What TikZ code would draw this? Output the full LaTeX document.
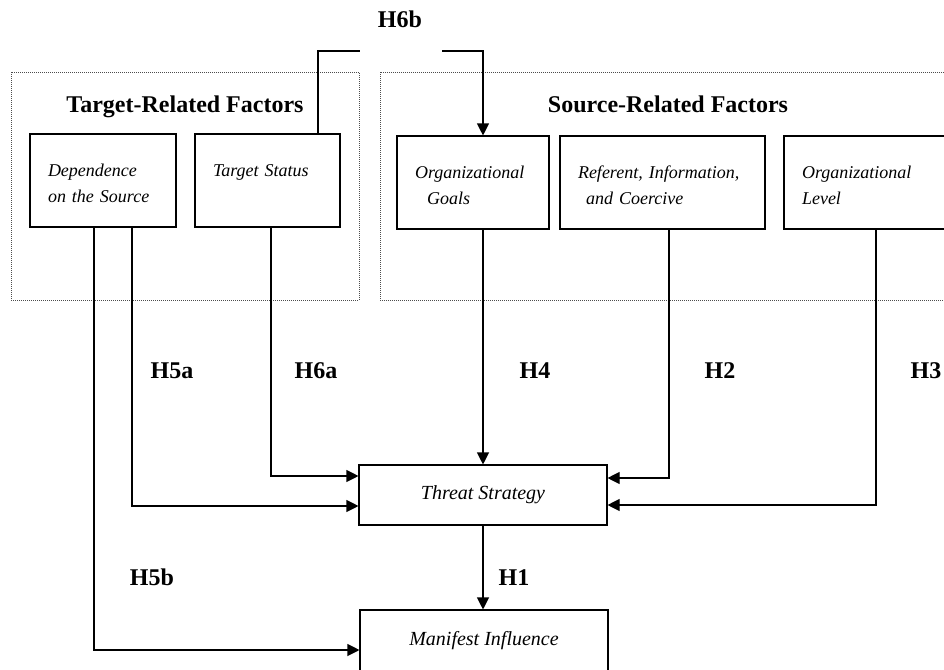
\documentclass[tikz,border=0pt]{standalone}
\usepackage{fontspec}
\setmainfont{Liberation Serif}
\usetikzlibrary{arrows.meta}

\begin{document}
\begin{tikzpicture}
  [x=1pt, y=-1pt, line width=1.1pt,
   factor/.style={draw, align=left, text width=#1, inner xsep=18, inner ysep=0,
     minimum height=93, font=\fontsize{18}{26}\selectfont\itshape},
   outcome/.style={draw, minimum width=248, font=\fontsize{20}{24}\selectfont\itshape},
   heading/.style={anchor=base, font=\fontsize{24}{28}\selectfont\bfseries},
   group/.style={draw=black!70, line width=1pt, dash pattern=on 1pt off 1pt},
   arr/.style={-{Triangle[length=12pt,width=12pt]}}]
  \useasboundingbox (0,0) rectangle (944,669);
  \clip (0,0) rectangle (944,669);

  \draw[group] (11,72) rectangle (359,300);
  \draw[group] (380,72) rectangle (958,300);
  \node[heading] (target) at (185,112) {Target-Related Factors};
  \node[heading] (source) at (668,112) {Source-Related Factors};

  \node[factor=110] (dep) at (103,180.5) {\strut Dependence\\on the Source};
  \node[factor=109] (ts) at (267.5,180.5) {\strut Target Status\\\mbox{}};
  \node[factor=116] (og) at (473,182.5) {\strut Organizational\\\hspace*{12pt}Goals};
  \node[factor=169] (ref) at (662.5,182.5) {\strut Referent, Information,\\\hspace*{8pt}and Coercive};
  \node[factor=134] (ol) at (869,182.5) {\strut Organizational\\Level};

  \node[outcome, minimum height=60] (threat) at (483,495) {Threat Strategy};
  \node[outcome, minimum height=62] (mi) at (484,641) {Manifest Influence};

  \coordinate (h6l) at (360,51);
  \coordinate (h6r) at (442,51);
  \draw ([xshift=50.5]ts.north) |- (h6l);
  \draw[arr] (h6r) -| ([xshift=10]og.north);
  \draw[arr] (og.south -| threat.north) -- (threat.north);
  \draw[arr] ([xshift=3.5]ts.south) |- ([yshift=19]threat.west);
  \draw[arr] ([xshift=29]dep.south) |- ([yshift=-11]threat.west);
  \draw[arr] ([xshift=-9]dep.south) |- ([yshift=-9]mi.west);
  \draw[arr] ([xshift=6.5]ref.south) |- ([yshift=17]threat.east);
  \draw[arr] ([xshift=7]ol.south) |- ([yshift=-10]threat.east);
  \draw[arr] (threat.south) -- (threat.south |- mi.north);

  \node[heading] (h6b) at (400,28) {H6b};
  \node[heading] (h5a) at (172,378) {H5a};
  \node[heading] (h6a) at (316,378) {H6a};
  \node[heading] (h4) at (535,378) {H4};
  \node[heading] (h2) at (720,378) {H2};
  \node[heading] (h3) at (926,378) {H3};
  \node[heading] (h5b) at (152,585) {H5b};
  \node[heading] (h1) at (514,585) {H1};
\end{tikzpicture}
\end{document}
